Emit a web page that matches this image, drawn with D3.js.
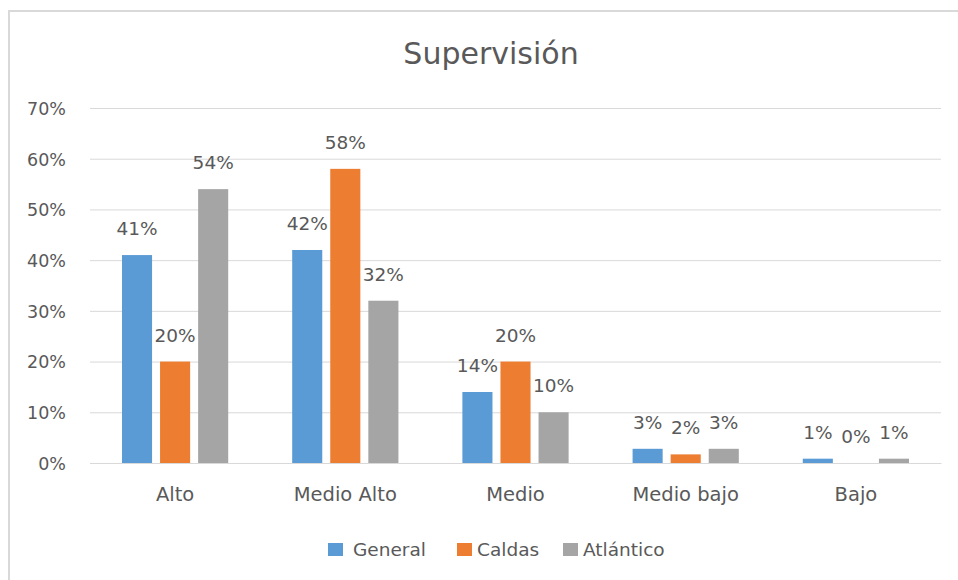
<!DOCTYPE html>
<html><head><meta charset="utf-8">
<script src="https://cdn.jsdelivr.net/npm/d3@7"></script>
<style>body{margin:0;background:#fff}svg{display:block}text{font-family:"DejaVu Sans",sans-serif;fill:#595959}</style>
</head><body>
<script>
const categories = ["Alto", "Medio Alto", "Medio", "Medio bajo", "Bajo"];
const seriesNames = ["General", "Caldas", "Atlántico"];
const general = [41, 42, 14, 2.8, 0.85];
const caldas = [20, 58, 20, 1.7, 0];
const atlantico = [54, 32, 10, 2.8, 0.85];
const yTicks = [0, 10, 20, 30, 40, 50, 60, 70];
const colors = ["#5B9BD5", "#ED7D31", "#A5A5A5"];
const title = "Supervisión";

const seriesValues = [general, caldas, atlantico];
const W = 958, H = 580;
const svg = d3.select("body").append("svg").attr("width", W).attr("height", H);
svg.append("rect").attr("x", 9).attr("y", 11).attr("width", 960).attr("height", 580)
  .attr("fill", "#fff").attr("stroke", "#d9d9d9").attr("stroke-width", 2);

const pLeft = 90, pRight = 941, pTop = 108, pBottom = 463;
const x = d3.scaleBand().domain(categories).range([pLeft, pRight]);
const xs = d3.scaleBand().domain(seriesNames).range([0, x.bandwidth()]).paddingInner(0.21).paddingOuter(0.84);
const y = d3.scaleLinear().domain([0, 70]).range([pBottom, pTop]);

svg.append("text").attr("x", 491).attr("y", 64).attr("text-anchor", "middle")
  .style("font-size", "30px").text(title);

const yAxis = svg.append("g").attr("transform", `translate(${pLeft},0)`)
  .call(d3.axisLeft(y).tickValues(yTicks).tickSize(-(pRight - pLeft)).tickFormat(d => d + "%"));
yAxis.select(".domain").remove();
yAxis.selectAll(".tick line").attr("stroke", "#d9d9d9").attr("stroke-width", 1);
yAxis.selectAll(".tick text").attr("x", -24).attr("dy", "0.36em")
  .style("font-size", "17.5px").style("font-family", "DejaVu Sans").style("fill", "#595959");

const xAxis = svg.append("g").attr("transform", `translate(0,${pBottom})`)
  .call(d3.axisBottom(x).tickSize(0));
xAxis.select(".domain").attr("stroke", "#d9d9d9");
xAxis.selectAll(".tick text").attr("dy", "0").attr("y", 38)
  .style("font-size", "19.5px").style("font-family", "DejaVu Sans").style("fill", "#595959");

seriesNames.forEach((s, si) => {
  const g = svg.append("g");
  g.selectAll("rect").data(seriesValues[si]).join("rect")
    .attr("x", (d, i) => x(categories[i]) + xs(s))
    .attr("width", xs.bandwidth())
    .attr("y", d => y(d))
    .attr("height", d => y(0) - y(d))
    .attr("fill", colors[si]);
  g.selectAll("text").data(seriesValues[si]).join("text")
    .attr("x", (d, i) => x(categories[i]) + xs(s) + xs.bandwidth() / 2)
    .attr("y", d => y(d) - 20)
    .attr("text-anchor", "middle")
    .style("font-size", "18.5px")
    .text(d => Math.round(d) + "%");
});

const legend = svg.append("g").attr("transform", "translate(0,556)");
const sqX = [328, 457, 563];
const txX = [353, 477, 583];
seriesNames.forEach((s, i) => {
  legend.append("rect").attr("x", sqX[i]).attr("y", -13).attr("width", 15).attr("height", 13).attr("fill", colors[i]);
  legend.append("text").attr("x", txX[i]).attr("y", 0).style("font-size", "18.5px").text(s);
});
</script>
</body></html>
